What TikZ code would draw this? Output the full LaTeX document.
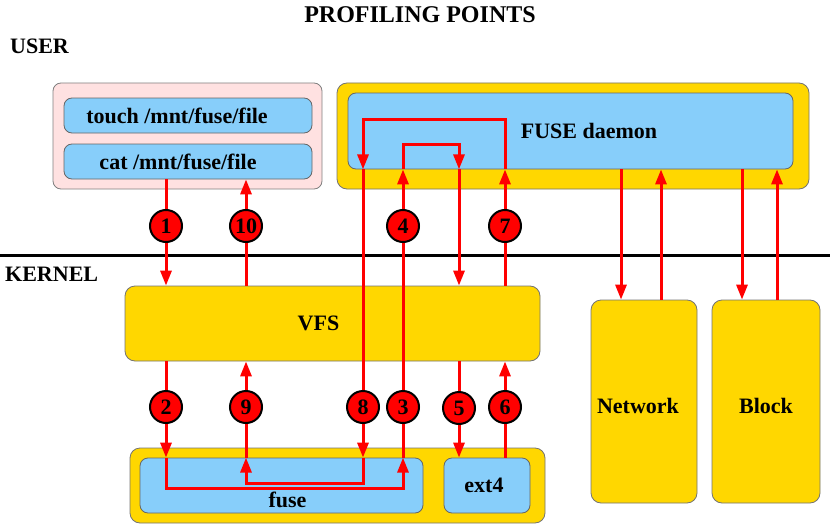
\documentclass[tikz,border=0pt]{standalone}
\usepackage{fontspec}
\setmainfont{Liberation Serif}
\usetikzlibrary{arrows.meta,positioning}
\definecolor{gold}{HTML}{FFD700}
\definecolor{skyb}{HTML}{87CEFA}
\definecolor{pinkb}{HTML}{FFE1E1}
\newcommand{\bigbf}{\fontsize{22pt}{26pt}\selectfont\bfseries}

\begin{document}
\begin{tikzpicture}[x=1pt,y=-1pt,
    ybox/.style={draw=black!55,line width=.8pt,fill=gold,rounded corners=10pt,font=\bigbf},
    bbox/.style={draw=black!60,line width=.8pt,fill=skyb,rounded corners=8pt,font=\bigbf},
    pbox/.style={draw=black!50,line width=.8pt,fill=pinkb,rounded corners=8pt},
    num/.style={circle,draw=black,line width=2pt,fill=red,minimum size=32pt,inner sep=0pt,
      font=\fontsize{22pt}{24pt}\selectfont\bfseries},
    flow/.style={red,line width=3pt},
    tip/.tip={Triangle[length=15pt,width=11pt]}]
  \useasboundingbox (0,0) rectangle (830,527);
  % titles
  \node at (420,15) {\fontsize{24pt}{28pt}\selectfont\bfseries PROFILING POINTS};
  \node[anchor=west,inner sep=0pt] at (10,46) {\bigbf USER};
  \node[anchor=west,inner sep=0pt] at (5,274) {\bigbf KERNEL};
  \draw[black,line width=3pt] (0,255)--(830,255);
  % user space
  \node[pbox,minimum width=269pt,minimum height=106pt] (user) at (187.5,136) {};
  \node[bbox,minimum width=248pt,minimum height=35pt] (touch) at (188,115.5) {touch /mnt/fuse/file\hspace*{22pt}};
  \node[bbox,minimum width=248pt,minimum height=35pt] (cat) at (188,161.5) {cat /mnt/fuse/file\hspace*{20pt}};
  \node[ybox,minimum width=472pt,minimum height=106pt] (daemonbg) at (573,136) {};
  \node[bbox,minimum width=445pt,minimum height=76pt] (daemon) at (570.5,131) {\hspace*{37pt}FUSE daemon};
  % kernel
  \node[ybox,minimum width=415pt,minimum height=75pt] (vfs) at (332.5,323.5) {VFS\hspace*{28pt}};
  \node[ybox,minimum width=106pt,minimum height=203pt,text height=24pt] (net) at (644,401.5) {Network\hspace*{12pt}};
  \node[ybox,minimum width=108pt,minimum height=203pt,text height=24pt] (blk) at (766,401.5) {Block};
  \node[ybox,minimum width=415pt,minimum height=75pt] (fsbg) at (337.5,485.5) {};
  \node[bbox,minimum width=283pt,minimum height=55pt,
    label={[font=\bigbf,xshift=6pt,yshift=-14pt]center:fuse}] (fusefs) at (281.5,485.5) {};
  \node[bbox,minimum width=86pt,minimum height=55pt] (ext4) at (487,485.5) {ext4\hspace*{6pt}};
  % points
  \coordinate (p1) at (166,226);
  \coordinate (p10) at (246,226);
  \coordinate (p4) at (403,226);
  \coordinate (p7) at (505,226);
  \coordinate (p2) at (166,407);
  \coordinate (p9) at (246,407);
  \coordinate (p8) at (363,407);
  \coordinate (p3) at (403,407);
  \coordinate (p5) at (459,408);
  \coordinate (p6) at (505,407);
  % bends
  \coordinate (c23) at (403,488);
  \coordinate (c45) at (459,144);
  \coordinate (c78) at (363,119);
  \coordinate (c89) at (246,483);
  \coordinate (netin) at ([xshift=-23pt]net.north);
  \coordinate (netout) at ([xshift=17pt]net.north);
  \coordinate (blkin) at ([xshift=-24pt]blk.north);
  \coordinate (blkout) at ([xshift=11pt]blk.north);
  % flows
  \draw[flow,-tip] (cat.south -| p1) -- (vfs.north -| p1);
  \draw[flow,-tip] (vfs.north -| p10) -- (cat.south -| p10);
  \draw[flow,-tip] (vfs.south -| p2) -- (fusefs.north -| p2);
  \draw[flow,-tip] (fusefs.north -| p2) |- (c23) -- (fusefs.north -| c23);
  \draw[flow,-tip] (fusefs.north -| p3) -- (daemon.south -| p3);
  \draw[flow,-tip] (daemon.south -| p4) |- (c45) -- (daemon.south -| c45);
  \draw[flow,-tip] (daemon.south -| p5) -- (vfs.north -| p5);
  \draw[flow,-tip] (vfs.south -| p5) -- (ext4.north -| p5);
  \draw[flow,-tip] (ext4.north -| p6) -- (vfs.south -| p6);
  \draw[flow,-tip] (vfs.north -| p7) -- (daemon.south -| p7);
  \draw[flow,-tip] (daemon.south -| p7) |- (c78) -- (daemon.south -| c78);
  \draw[flow,-tip] (daemon.south -| p8) -- (fusefs.north -| p8);
  \draw[flow,-tip] (fusefs.north -| p8) |- (c89) -- (fusefs.north -| c89);
  \draw[flow,-tip] (fusefs.north -| p9) -- (vfs.south -| p9);
  \draw[flow,-tip] (netin |- daemon.south) -- (netin);
  \draw[flow,-tip] (netout) -- (netout |- daemon.south);
  \draw[flow,-tip] (blkin |- daemon.south) -- (blkin);
  \draw[flow,-tip] (blkout) -- (blkout |- daemon.south);
  % numbered points, over the flows
  \foreach \n in {1,10,4,7,2,9,8,3,5,6}
    \node[num] (n\n) at (p\n) {\n};
\end{tikzpicture}
\end{document}
